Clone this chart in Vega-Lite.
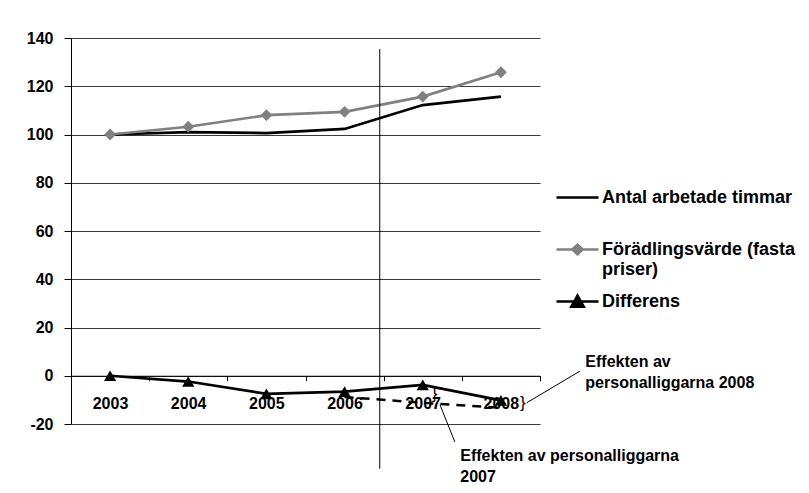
{
  "$schema": "https://vega.github.io/schema/vega-lite/v6.json",
  "width": 469,
  "height": 386,
  "autosize": {"type": "none"},
  "padding": {"left": 71, "top": 38, "right": 269, "bottom": 69},
  "background": "white",
  "config": {
    "font": "Liberation Sans",
    "view": {"stroke": null}
  },
  "datasets": {
    "series": [
      {"year": 2003, "series": "Antal arbetade timmar", "value": 100},
      {"year": 2004, "series": "Antal arbetade timmar", "value": 101},
      {"year": 2005, "series": "Antal arbetade timmar", "value": 100.6},
      {"year": 2006, "series": "Antal arbetade timmar", "value": 102.3},
      {"year": 2007, "series": "Antal arbetade timmar", "value": 112.2},
      {"year": 2008, "series": "Antal arbetade timmar", "value": 115.7},
      {"year": 2003, "series": "Förädlingsvärde (fasta priser)", "value": 100},
      {"year": 2004, "series": "Förädlingsvärde (fasta priser)", "value": 103.2},
      {"year": 2005, "series": "Förädlingsvärde (fasta priser)", "value": 108},
      {"year": 2006, "series": "Förädlingsvärde (fasta priser)", "value": 109.4},
      {"year": 2007, "series": "Förädlingsvärde (fasta priser)", "value": 115.7},
      {"year": 2008, "series": "Förädlingsvärde (fasta priser)", "value": 125.8},
      {"year": 2003, "series": "Differens", "value": 0},
      {"year": 2004, "series": "Differens", "value": -2.4},
      {"year": 2005, "series": "Differens", "value": -7.5},
      {"year": 2006, "series": "Differens", "value": -6.6},
      {"year": 2007, "series": "Differens", "value": -3.8},
      {"year": 2008, "series": "Differens", "value": -10.2}
    ],
    "dashed": [
      {"year": 2006, "value": -8.8},
      {"year": 2007, "value": -11.2},
      {"year": 2008, "value": -13.3}
    ],
    "divider": [{"year": 2006.45, "value": 135.4, "bottom": -38.5}],
    "leaders": [
      {"year": 2007.22, "x2": 2007.41, "value": -12.0, "y2": -27.4},
      {"year": 2008.33, "x2": 2009.01, "value": -11.2, "y2": 1.9}
    ],
    "notes": [
      {"year": 2007.48, "value": -29.8, "text": "Effekten av personalliggarna\n2007"},
      {"year": 2009.08, "value": 9.1, "text": "Effekten av\npersonalliggarna 2008"}
    ],
    "braces": [
      {"year": 2007.15, "value": -7.5, "text": "}"},
      {"year": 2008.28, "value": -11.4, "text": "}"}
    ]
  },
  "layer": [
    {
      "data": {"name": "series"},
      "mark": {"type": "line", "strokeWidth": 2.7},
      "encoding": {
        "x": {
          "field": "year", "type": "quantitative",
          "scale": {"domain": [2002.5, 2008.5], "nice": false, "zero": false},
          "axis": {
            "title": null,
            "values": [2002.5, 2003.5, 2004.5, 2005.5, 2006.5, 2007.5, 2008.5],
            "labelExpr": "datum.value < 2008 ? '' + (datum.value + 0.5) : ''",
            "labelOffset": 39,
            "labelOverlap": false,
            "labelFlush": false,
            "labelFontSize": 16,
            "labelFontWeight": "bold",
            "labelColor": "black",
            "labelPadding": 15,
            "tickSize": 5,
            "tickColor": "black",
            "domainColor": "black",
            "domainWidth": 1,
            "grid": false,
            "offset": -48.25
          }
        },
        "y": {
          "field": "value", "type": "quantitative",
          "scale": {"domain": [-20, 140], "nice": false, "zero": false},
          "axis": {
            "title": null,
            "values": [-20, 0, 20, 40, 60, 80, 100, 120, 140],
            "labelExpr": "'' + datum.value",
            "labelFontSize": 16,
            "labelFontWeight": "bold",
            "labelColor": "black",
            "labelPadding": 11,
            "tickSize": 7,
            "tickColor": "black",
            "domainColor": "black",
            "grid": true,
            "gridColor": "#3a3a3a",
            "gridWidth": 1,
            "gridOpacity": 1
          }
        },
        "color": {
          "field": "series", "type": "nominal",
          "scale": {
            "domain": ["Antal arbetade timmar", "Förädlingsvärde (fasta priser)", "Differens"],
            "range": ["black", "#808080", "black"]
          },
          "legend": {
            "title": null,
            "orient": "none",
            "legendX": 484,
            "legendY": 137,
            "padding": 0,
            "rowPadding": 0,
            "symbolSize": 1764,
            "labelOffset": 2,
            "labelFontSize": 18,
            "labelFontWeight": "bold",
            "labelColor": "black",
            "labelLimit": 400,
            "labelExpr": "datum.value === 'Förädlingsvärde (fasta priser)' ? ['Förädlingsvärde (fasta', 'priser)'] : (datum.value === 'Antal arbetade timmar' ? ['Antal arbetade timmar', ''] : datum.label)",
            "encode": {
              "symbols": {
                "update": {
                  "shape": {"signal": "datum.value === 'Differens' ? 'M-1,0H1M-0.3,0.25L0,-0.28L0.3,0.25Z' : (datum.value === 'Antal arbetade timmar' ? 'M-1,0H1' : 'M-1,0H1M-0.25,0L0,-0.23L0.25,0L0,0.23Z')"},
                  "fill": {"signal": "datum.value === 'Antal arbetade timmar' ? 'transparent' : (datum.value === 'Differens' ? 'black' : '#808080')"},
                  "stroke": {"signal": "datum.value === 'Förädlingsvärde (fasta priser)' ? '#808080' : 'black'"},
                  "strokeWidth": {"value": 2.5},
                  "opacity": {"value": 1}
                }
              }
            }
          }
        }
      }
    },
    {
      "data": {"name": "divider"},
      "mark": {"type": "rule", "color": "black", "strokeWidth": 1},
      "encoding": {
        "x": {"field": "year", "type": "quantitative"},
        "y": {"field": "value", "type": "quantitative"},
        "y2": {"field": "bottom"}
      }
    },
    {
      "data": {"name": "series"},
      "transform": [{"filter": "datum.series === 'Förädlingsvärde (fasta priser)'"}],
      "mark": {"type": "point", "shape": "diamond", "filled": true, "color": "#808080", "size": 140, "opacity": 1},
      "encoding": {
        "x": {"field": "year", "type": "quantitative"},
        "y": {"field": "value", "type": "quantitative"}
      }
    },
    {
      "data": {"name": "series"},
      "transform": [{"filter": "datum.series === 'Differens'"}],
      "mark": {"type": "point", "shape": "triangle-up", "filled": true, "color": "black", "size": 150, "opacity": 1},
      "encoding": {
        "x": {"field": "year", "type": "quantitative"},
        "y": {"field": "value", "type": "quantitative"}
      }
    },
    {
      "data": {"name": "dashed"},
      "mark": {"type": "line", "color": "black", "strokeWidth": 2.5, "strokeDash": [9, 7]},
      "encoding": {
        "x": {"field": "year", "type": "quantitative"},
        "y": {"field": "value", "type": "quantitative"}
      }
    },
    {
      "data": {"name": "leaders"},
      "mark": {"type": "rule", "color": "black", "strokeWidth": 1},
      "encoding": {
        "x": {"field": "year", "type": "quantitative"},
        "x2": {"field": "x2"},
        "y": {"field": "value", "type": "quantitative"},
        "y2": {"field": "y2"}
      }
    },
    {
      "data": {"name": "braces"},
      "mark": {"type": "text", "fontSize": 17, "color": "black", "align": "center", "baseline": "middle"},
      "encoding": {
        "x": {"field": "year", "type": "quantitative"},
        "y": {"field": "value", "type": "quantitative"},
        "text": {"field": "text"}
      }
    },
    {
      "data": {"name": "notes"},
      "mark": {"type": "text", "fontSize": 16, "fontWeight": "bold", "color": "black", "align": "left", "baseline": "top", "lineBreak": "\n", "lineHeight": 21},
      "encoding": {
        "x": {"field": "year", "type": "quantitative"},
        "y": {"field": "value", "type": "quantitative"},
        "text": {"field": "text"}
      }
    }
  ]
}
